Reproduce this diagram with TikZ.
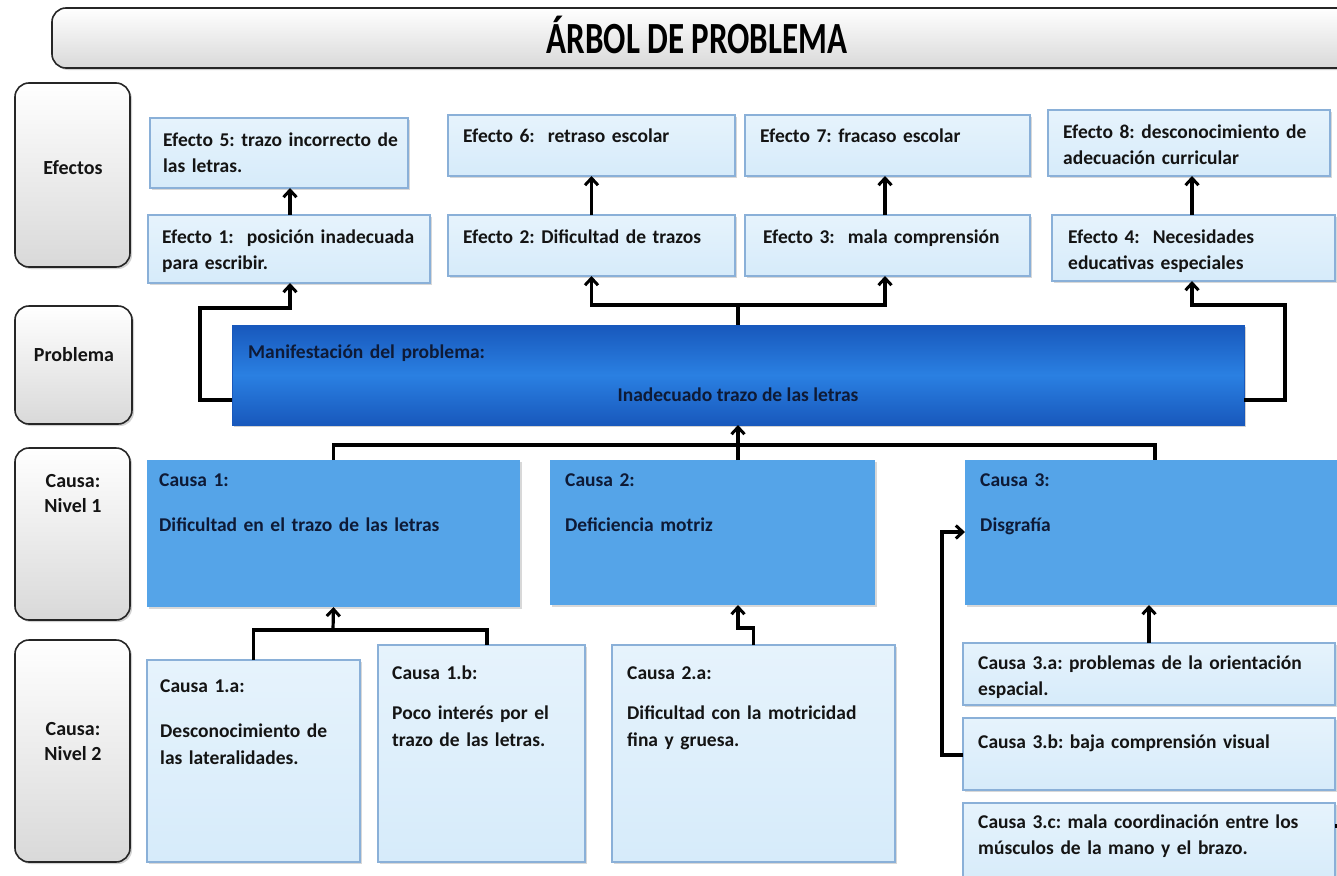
\documentclass[tikz,border=0pt]{standalone}
\usepackage{fontspec}
\setmainfont{Carlito}
\usetikzlibrary{fit,shadows,arrows.meta}
\definecolor{lbfill}{HTML}{D6EBFA}
\definecolor{lbtop}{HTML}{E6F3FC}
\definecolor{lbdraw}{HTML}{8AB0D8}
\definecolor{cfill}{HTML}{55A4E8}
\definecolor{pmid}{HTML}{2A80E2}
\definecolor{pedge}{HTML}{1858BC}
\definecolor{navy}{HTML}{0E1A36}
\tikzset{
  hdr/.style={draw=black!85, line width=1.6pt, rounded corners=14pt, top color=white, bottom color=gray!30, inner sep=0pt, outer sep=0pt,
    drop shadow={shadow xshift=2pt, shadow yshift=-2pt, opacity=.35}},
  lb/.style={draw=lbdraw, line width=1.1pt, top color=lbtop, bottom color=lbfill, inner sep=0pt, outer sep=0pt,
    drop shadow={shadow xshift=1.5pt, shadow yshift=-1.5pt, opacity=.3}},
  cb/.style={fill=cfill, inner sep=0pt, outer sep=0pt,
    drop shadow={shadow xshift=1.5pt, shadow yshift=-1.5pt, opacity=.3}},
  pb/.style={draw=pedge, line width=1pt, top color=pedge, bottom color=pedge, middle color=pmid, inner sep=0pt, outer sep=0pt,
    drop shadow={shadow xshift=2pt, shadow yshift=-2pt, opacity=.35}},
  txt/.style={anchor=base west, inner sep=0pt, text width=#1, align=left, text=black!92,
    font=\fontsize{19.5}{26.5}\selectfont\bfseries\frenchspacing},
  txt/.default=340pt,
  ctxt/.style={txt=#1, text=navy},
  ctxt/.default=340pt,
  lab/.style={anchor=base, inner sep=0pt, align=center, text=black!92,
    font=\fontsize{20}{25}\selectfont\bfseries},
  ln/.style={line width=3.2pt, black},
  arr/.style={ln, -{Straight Barb[length=7pt, width=13pt, line width=3pt]}},
}
\begin{document}
\begin{tikzpicture}[x=1pt, y=-1pt]
\useasboundingbox (0,0) rectangle (1337,875);
\clip (0,0) rectangle (1337,875);
\fill[white] (0,0) rectangle (1337,875);

% title
\node[hdr, fit={(52,8)(1370,68)}] (title) {};
\node[anchor=base, inner sep=0pt, font=\fontsize{33}{40}\selectfont\bfseries] (titletext) at (697,53) {\scalebox{1}[1.35]{ÁRBOL DE PROBLEMA}};

% left labels
\node[hdr, fit={(15,83)(130,267)}] (Lef) {};
\node[lab] (Left) at (73,174) {Efectos};
\node[hdr, fit={(15,306)(132,424)}] (Lpr) {};
\node[lab] (Lprt) at (74,361) {Problema};
\node[hdr, fit={(15,448)(130,620)}] (Lc1) {};
\node[lab] (Lc1t) at (73,512) {Causa:\\Nivel 1};
\node[hdr, fit={(15,640)(130,862)}] (Lc2) {};
\node[lab] (Lc2t) at (73,760) {Causa:\\Nivel 2};

% effects
\node[lb, fit={(150,118)(408,188)}] (e5) {};
\node[txt=250pt] (e5t) at (163,146) {Efecto 5: trazo incorrecto de\\las letras.};
\node[lb, fit={(448,115)(735,176)}] (e6) {};
\node[txt] (e6t) at (463,142) {Efecto 6:\ \ retraso escolar};
\node[lb, fit={(745,115)(1030,176)}] (e7) {};
\node[txt] (e7t) at (760,142) {Efecto 7: fracaso escolar};
\node[lb, fit={(1048,110)(1330,176)}] (e8) {};
\node[txt=270pt] (e8t) at (1063,138) {Efecto 8: desconocimiento de\\adecuación curricular};

\node[lb, fit={(148,215)(430,283)}] (e1) {};
\node[txt] (e1t) at (162,243) {Efecto 1:\ \ posición inadecuada\\para escribir.};
\node[lb, fit={(448,215)(735,276)}] (e2) {};
\node[txt] (e2t) at (463,243) {Efecto 2: Dificultad de trazos};
\node[lb, fit={(745,215)(1030,276)}] (e3) {};
\node[txt] (e3t) at (763,243) {Efecto 3:\ \ mala comprensión};
\node[lb, fit={(1052,215)(1335,281)}] (e4) {};
\node[txt] (e4t) at (1068,243) {Efecto 4:\ \ Necesidades\\educativas especiales};

% problem
\node[pb, fit={(232,325)(1244,425)}] (prob) {};
\node[ctxt] (probt1) at (248,358) {Manifestación del problema:};
\node[anchor=base, inner sep=0pt, text=navy, font=\fontsize{19.5}{26.5}\selectfont\bfseries] (probt2) at (738,401) {Inadecuado trazo de las letras};

% causes level 1
\node[cb, fit={(147,460)(520,607)}] (c1) {};
\node[ctxt] (c1t) at (159,486) {Causa 1:\\[19pt]Dificultad en el trazo de las letras};
\node[cb, fit={(550,460)(875,605)}] (c2) {};
\node[ctxt] (c2t) at (565,486) {Causa 2:\\[19pt]Deficiencia motriz};
\node[cb, fit={(965,460)(1345,605)}] (c3) {};
\node[ctxt] (c3t) at (980,486) {Causa 3:\\[19pt]Disgrafía};

% causes level 2
\node[lb, fit={(147,660)(360,862)}] (c1a) {};
\node[txt] (c1at) at (160,692) {Causa 1.a:\\[19pt]Desconocimiento de\\las lateralidades.};
\node[lb, fit={(378,645)(585,862)}] (c1b) {};
\node[txt] (c1bt) at (392,679) {Causa 1.b:\\[14pt]Poco interés por el\\trazo de las letras.};
\node[lb, fit={(612,645)(895,862)}] (c2a) {};
\node[txt] (c2at) at (627,679) {Causa 2.a:\\[14pt]Dificultad con la motricidad\\fina y gruesa.};
\node[lb, fit={(963,643)(1335,705)}] (c3a) {};
\node[txt=355pt] (c3at) at (978,669) {Causa 3.a: problemas de la orientación\\espacial.};
\node[lb, fit={(963,718)(1335,790)}] (c3b) {};
\node[txt=355pt] (c3bt) at (978,748) {Causa 3.b: baja comprensión visual};
\node[lb, fit={(963,803)(1335,885)}] (c3c) {};
\node[txt=355pt] (c3ct) at (978,828) {Causa 3.c: mala coordinación entre los\\músculos de la mano y el brazo.};

% connectors: effects
\draw[arr] (e1.north -| 290,0) -- (e5.south -| 290,0);
\draw[arr] (e2.north) -- (e6.south);
\draw[arr] (e3.north -| 885,0) -- (e7.south -| 885,0);
\draw[arr] (e4.north -| 1192,0) -- (e8.south -| 1192,0);

% problem -> effects
\coordinate (pl) at (200,308);
\coordinate (pt) at (738,305);
\coordinate (pr) at (1285,305);
\draw[arr] (prob.west |- 0,400) -| (pl) -| (e1.south -| 290,0);
\draw[ln] (prob.north) -- (pt);
\draw[arr] (pt) -| (e2.south);
\draw[arr] (pt) -| (e3.south -| 885,0);
\draw[arr] (prob.east |- 0,400) -| (pr) -| (e4.south -| 1192,0);

% causes level 1 -> problem
\coordinate (cj) at (738,445);
\draw[ln] (c1.north) |- (c3.north |- cj) -- (c3.north);
\draw[ln] (c2.north -| cj) -- (cj);
\draw[arr] (cj) -- (prob.south);

% level 2 -> level 1
\coordinate (k1) at (333,630);
\coordinate (k1b) at (487,630);
\draw[ln] (c1a.north) |- (k1b) -- (k1b |- c1b.north);
\draw[arr] (k1) -- (c1.south);
\coordinate (k2) at (738,628);
\draw[arr] (c2a.north) |- (k2) -- (k2 |- c2.south);
\draw[arr] (c3a.north) -- (c3a.north |- c3.south);
\coordinate (k3) at (942,532);
\draw[arr] (c3b.west |- 0,755) -| (k3) -- (c3.west |- k3);
\draw[ln] (c3c.east |- 0,826) -- ++(12,0);
\end{tikzpicture}
\end{document}
